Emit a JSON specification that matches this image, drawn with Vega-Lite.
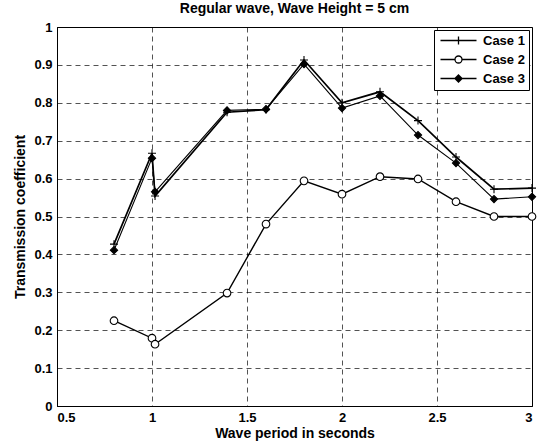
{
  "$schema": "https://vega.github.io/schema/vega-lite/v6.json",
  "autosize": "none",
  "width": 475,
  "height": 379,
  "padding": {"left": 57, "top": 27, "right": 11, "bottom": 41},
  "background": "white",
  "title": {"text": "Regular wave, Wave Height = 5 cm", "fontSize": 14, "font": "Liberation Sans", "fontWeight": "bold", "color": "black", "offset": 5, "anchor": "middle"},
  "config": {
    "view": {"stroke": "black", "strokeWidth": 1},
    "axis": {
      "domainColor": "black", "domainWidth": 1,
      "gridColor": "black", "gridOpacity": 0.85, "gridDash": [5, 4], "gridWidth": 0.8,
      "labelColor": "black", "labelFont": "Liberation Sans", "labelFontSize": 13, "labelFontWeight": "bold",
      "titleColor": "black", "titleFont": "Liberation Sans", "titleFontSize": 14, "titleFontWeight": "bold",
      "ticks": false, "labelPadding": 5
    },
    "legend": {
      "labelFont": "Liberation Sans", "labelFontSize": 13, "labelFontWeight": "bold", "labelColor": "black"
    }
  },
  "data": {"values": [
    {"period": 0.8, "coef": 0.427, "case": "Case 1"},
    {"period": 1.0, "coef": 0.667, "case": "Case 1"},
    {"period": 1.016, "coef": 0.554, "case": "Case 1"},
    {"period": 1.395, "coef": 0.775, "case": "Case 1"},
    {"period": 1.6, "coef": 0.782, "case": "Case 1"},
    {"period": 1.8, "coef": 0.913, "case": "Case 1"},
    {"period": 2.0, "coef": 0.800, "case": "Case 1"},
    {"period": 2.2, "coef": 0.829, "case": "Case 1"},
    {"period": 2.4, "coef": 0.753, "case": "Case 1"},
    {"period": 2.6, "coef": 0.657, "case": "Case 1"},
    {"period": 2.8, "coef": 0.572, "case": "Case 1"},
    {"period": 3.0, "coef": 0.575, "case": "Case 1"},
    {"period": 0.8, "coef": 0.225, "case": "Case 2"},
    {"period": 1.0, "coef": 0.179, "case": "Case 2"},
    {"period": 1.016, "coef": 0.163, "case": "Case 2"},
    {"period": 1.395, "coef": 0.298, "case": "Case 2"},
    {"period": 1.6, "coef": 0.480, "case": "Case 2"},
    {"period": 1.8, "coef": 0.594, "case": "Case 2"},
    {"period": 2.0, "coef": 0.559, "case": "Case 2"},
    {"period": 2.2, "coef": 0.605, "case": "Case 2"},
    {"period": 2.4, "coef": 0.599, "case": "Case 2"},
    {"period": 2.6, "coef": 0.539, "case": "Case 2"},
    {"period": 2.8, "coef": 0.500, "case": "Case 2"},
    {"period": 3.0, "coef": 0.500, "case": "Case 2"},
    {"period": 0.8, "coef": 0.411, "case": "Case 3"},
    {"period": 1.0, "coef": 0.654, "case": "Case 3"},
    {"period": 1.016, "coef": 0.565, "case": "Case 3"},
    {"period": 1.395, "coef": 0.780, "case": "Case 3"},
    {"period": 1.6, "coef": 0.783, "case": "Case 3"},
    {"period": 1.8, "coef": 0.902, "case": "Case 3"},
    {"period": 2.0, "coef": 0.786, "case": "Case 3"},
    {"period": 2.2, "coef": 0.818, "case": "Case 3"},
    {"period": 2.4, "coef": 0.715, "case": "Case 3"},
    {"period": 2.6, "coef": 0.641, "case": "Case 3"},
    {"period": 2.8, "coef": 0.546, "case": "Case 3"},
    {"period": 3.0, "coef": 0.552, "case": "Case 3"}
  ]},
  "encoding": {
    "x": {"field": "period", "type": "quantitative", "scale": {"domain": [0.5, 3], "nice": false, "zero": false},
      "axis": {"title": "Wave period in seconds", "values": [0.5, 1, 1.5, 2, 2.5, 3], "format": "~g", "titlePadding": 2}},
    "y": {"field": "coef", "type": "quantitative", "scale": {"domain": [0, 1], "nice": false},
      "axis": {"title": "Transmission coefficient", "values": [0, 0.1, 0.2, 0.3, 0.4, 0.5, 0.6, 0.7, 0.8, 0.9, 1], "format": "~g", "titlePadding": 6}}
  },
  "layer": [
    {
      "mark": {"type": "line", "color": "black"},
      "encoding": {
        "detail": {"field": "case", "type": "nominal"},
        "strokeWidth": {"field": "case", "type": "ordinal", "scale": {"domain": ["Case 1", "Case 2", "Case 3"], "range": [1.7, 1.1, 1.7]}, "legend": null}
      }
    },
    {
      "mark": {"type": "point", "stroke": "black", "strokeWidth": 1.1, "opacity": 1},
      "encoding": {
        "shape": {"field": "case", "type": "nominal", "scale": {"domain": ["Case 1", "Case 2", "Case 3"], "range": ["M-1,0H1M0,-1V1", "circle", "diamond"]}, "legend": null},
        "fill": {"field": "case", "type": "nominal", "scale": {"domain": ["Case 1", "Case 2", "Case 3"], "range": ["transparent", "white", "black"]}, "legend": null},
        "size": {"field": "case", "type": "ordinal", "scale": {"domain": ["Case 1", "Case 2", "Case 3"], "range": [64, 52, 40]}, "legend": null}
      }
    },
    {
      "data": {"values": []},
      "mark": {"type": "point", "stroke": "black", "filled": false, "opacity": 1},
      "encoding": {
        "x": {"field": "period", "type": "quantitative"},
        "y": {"field": "coef", "type": "quantitative"},
        "shape": {"field": "lcase", "type": "nominal",
          "scale": {"domain": ["Case 1", "Case 2", "Case 3"],
            "range": [
              "M-4.5,0H4.5M0,-1V1",
              "M-4.5,0H-0.875M0.875,0H4.5M0.875,0A0.875,0.875 0 1,1 -0.875,0A0.875,0.875 0 1,1 0.875,0",
              "M-4.5,0H4.5M0,-0.9L0.9,0L0,0.9L-0.9,0ZM0,-0.45L0.45,0L0,0.45L-0.45,0Z"
            ]},
          "legend": {"title": null, "orient": "top-right", "offset": 3, "padding": 4,
            "strokeColor": "black", "fillColor": "white",
            "symbolSize": 64, "symbolStrokeWidth": 1.3, "symbolStrokeColor": "black", "symbolFillColor": "transparent",
            "symbolOffset": 14, "labelOffset": 18, "rowPadding": 5}
        }
      }
    }
  ],
  "resolve": {"scale": {"shape": "independent", "fill": "independent", "size": "independent"}}
}
